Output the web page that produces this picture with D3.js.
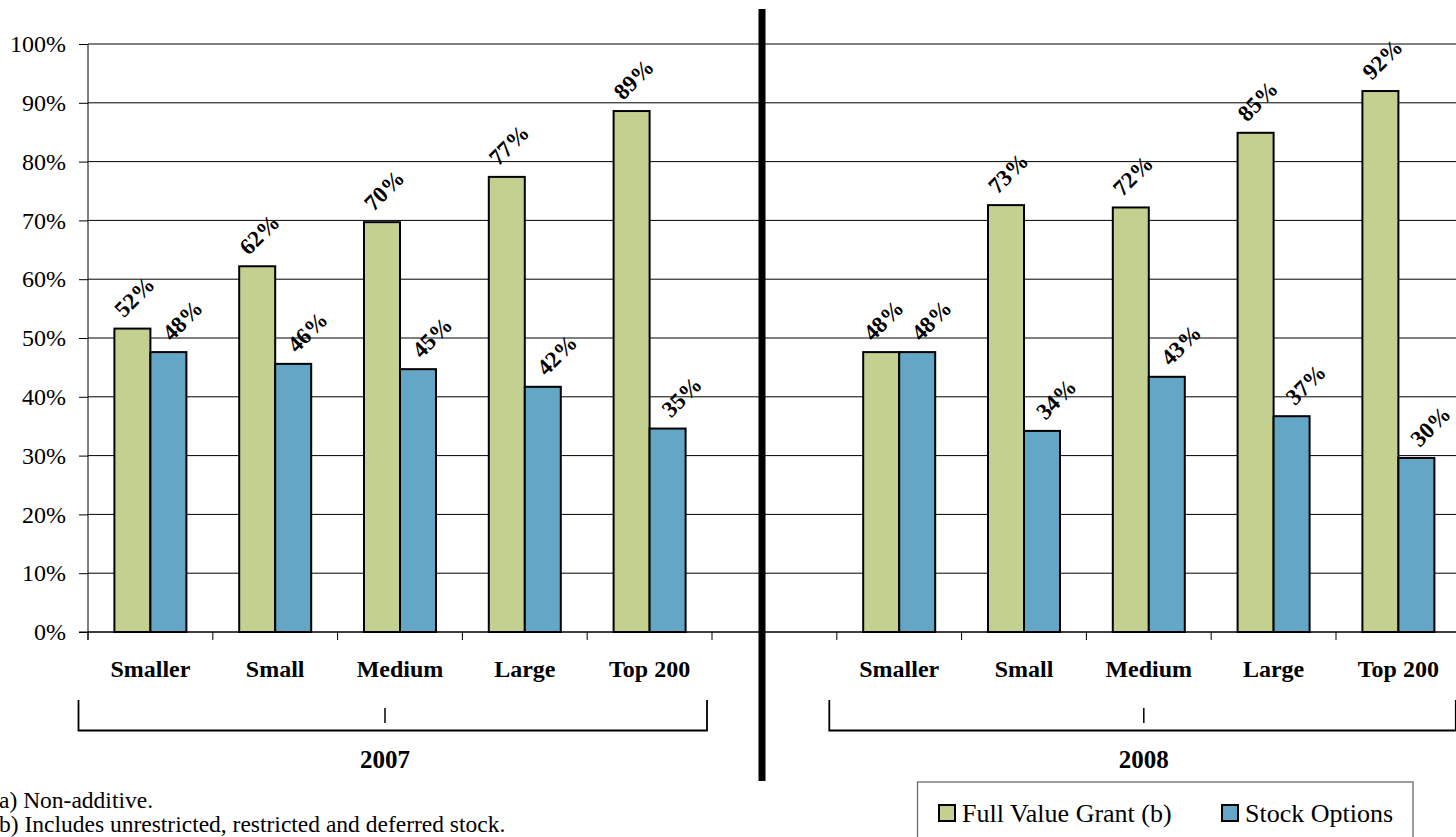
<!DOCTYPE html>
<html>
<head>
<meta charset="utf-8">
<script src="https://cdn.jsdelivr.net/npm/d3@7"></script>
<style>
  html, body { margin: 0; padding: 0; background: #fff; overflow: hidden; }
  svg { display: block; }
  text { font-family: "Liberation Serif", "Times New Roman", serif; fill: #000; }
</style>
</head>
<body>
<svg id="chart" width="1456" height="837"></svg>
<script>
// ---------------- data ----------------
const years = ["2007", "2008"];
const categories = ["Smaller", "Small", "Medium", "Large", "Top 200"];
const seriesNames = ["Full Value Grant (b)", "Stock Options"];
const fullValue2007 = [51.6, 62.2, 69.7, 77.4, 88.6];
const stockOptions2007 = [47.6, 45.6, 44.7, 41.7, 34.6];
const fullValue2008 = [47.6, 72.6, 72.2, 84.9, 92.0];
const stockOptions2008 = [47.6, 34.2, 43.4, 36.7, 29.6];
const yTicks = [0, 10, 20, 30, 40, 50, 60, 70, 80, 90, 100];
const footnotes = ["a) Non-additive.", "b) Includes unrestricted, restricted and deferred stock."];
const colors = ["#C4D08F", "#63A6C5"];

// ---------------- layout ----------------
const FONT = "'Liberation Serif', 'Times New Roman', serif";
const svg = d3.select("#chart");
const plotLeft = 88, plotTop = 44, plotBottom = 632;
const slotWidth = 124.8;

// slots: 5 categories for 2007, an empty slot, 5 categories for 2008
const slotKeys = [];
categories.forEach(c => slotKeys.push("2007|" + c));
slotKeys.push("gap");
categories.forEach(c => slotKeys.push("2008|" + c));

const x0 = d3.scaleBand().domain(slotKeys)
  .range([plotLeft, plotLeft + slotWidth * slotKeys.length]).padding(0);
const x1 = d3.scaleBand().domain(seriesNames)
  .range([0, x0.bandwidth()]).paddingInner(0).paddingOuter(0.7333);
const y = d3.scaleLinear().domain([0, 100]).range([plotBottom, plotTop]);

const rows = [];
[[fullValue2007, stockOptions2007], [fullValue2008, stockOptions2008]].forEach((pair, yi) => {
  categories.forEach((c, ci) => {
    pair.forEach((vals, si) => {
      rows.push({ key: years[yi] + "|" + c, series: seriesNames[si], si, value: vals[ci] });
    });
  });
});

// gridlines
svg.append("g")
  .selectAll("line").data(yTicks).join("line")
  .attr("x1", plotLeft).attr("x2", 1470)
  .attr("y1", d => y(d)).attr("y2", d => y(d))
  .attr("stroke", "#000").attr("stroke-width", 1);

// y axis
const yAxis = svg.append("g").attr("transform", `translate(${plotLeft},0)`)
  .call(d3.axisLeft(y).tickValues(yTicks).tickSize(9).tickPadding(13)
    .tickFormat(d => d + "%"));
yAxis.attr("font-family", null).attr("font-size", null);
yAxis.select(".domain").remove();
yAxis.selectAll(".tick line").attr("stroke", "#000");
yAxis.selectAll("text").attr("font-family", FONT).style("font-family", FONT).style("font-size", "24px");
svg.append("line").attr("x1", plotLeft).attr("x2", plotLeft)
  .attr("y1", plotTop).attr("y2", plotBottom + 8).attr("stroke", "#000");

// x axis line and boundary ticks
svg.append("line").attr("x1", plotLeft - 9).attr("x2", 1470)
  .attr("y1", plotBottom).attr("y2", plotBottom).attr("stroke", "#000");
const boundaries = slotKeys.map(k => x0(k)).concat([x0(slotKeys[slotKeys.length - 1]) + x0.bandwidth()]);
svg.append("g").selectAll("line").data(boundaries).join("line")
  .attr("x1", d => d).attr("x2", d => d)
  .attr("y1", plotBottom).attr("y2", plotBottom + 8)
  .attr("stroke", "#000");

// bars
svg.append("g").selectAll("rect").data(rows).join("rect")
  .attr("x", d => x0(d.key) + x1(d.series))
  .attr("y", d => y(d.value))
  .attr("width", x1.bandwidth())
  .attr("height", d => plotBottom - y(d.value))
  .attr("fill", d => colors[d.si])
  .attr("stroke", "#000").attr("stroke-width", 2);

// data labels
const labelShift = [2, 14];
svg.append("g").selectAll("text").data(rows).join("text")
  .attr("transform", d => {
    const cx = x0(d.key) + x1(d.series) + x1.bandwidth() / 2 + labelShift[d.si];
    const cy = y(d.value) - 32;
    return `translate(${cx},${cy}) rotate(-45)`;
  })
  .attr("text-anchor", "middle").attr("dy", "0.35em")
  .attr("font-family", FONT)
  .style("font-size", "23px").style("font-weight", "bold")
  .text(d => Math.round(d.value) + "%");

// category labels
svg.append("g").selectAll("text").data(slotKeys.filter(k => k !== "gap")).join("text")
  .attr("x", d => x0(d) + x0.bandwidth() / 2)
  .attr("y", 677)
  .attr("text-anchor", "middle")
  .attr("font-family", FONT)
  .style("font-size", "24px").style("font-weight", "bold")
  .text(d => d.split("|")[1]);

// year brackets
const yearShift = [-15, -5];
years.forEach((yr, i) => {
  const first = x0(yr + "|" + categories[0]);
  const last = x0(yr + "|" + categories[categories.length - 1]) + x0.bandwidth();
  const left = first - (i === 0 ? 9.5 : 7.5);
  const right = last - 5;
  const mid = (first + last) / 2 + yearShift[i];
  const g = svg.append("g");
  g.append("path")
    .attr("d", `M${left},700 V730.5 H${right} V700`)
    .attr("fill", "none").attr("stroke", "#000").attr("stroke-width", 1.8);
  g.append("line").attr("x1", mid).attr("x2", mid).attr("y1", 708).attr("y2", 723)
    .attr("stroke", "#000").attr("stroke-width", 1.5);
  g.append("text").attr("x", mid).attr("y", 768).attr("text-anchor", "middle")
    .attr("font-family", FONT)
    .style("font-size", "25px").style("font-weight", "bold").text(yr);
});

// thick divider
const gapX = x0("gap");
svg.append("rect").attr("x", gapX + 46.5).attr("y", 9).attr("width", 7).attr("height", 772)
  .attr("fill", "#000");

// footnotes
svg.append("g").selectAll("text").data(footnotes).join("text")
  .attr("x", -1).attr("y", (d, i) => 808 + i * 24)
  .attr("font-family", FONT)
  .style("font-size", "23.5px")
  .text(d => d);

// legend
const legend = svg.append("g");
legend.append("rect").attr("x", 917.5).attr("y", 782).attr("width", 495.5).attr("height", 80)
  .attr("fill", "#fff").attr("stroke", "#6b6b6b").attr("stroke-width", 1.3);
const legendX = [939, 1222];
seriesNames.forEach((s, i) => {
  legend.append("rect").attr("x", legendX[i]).attr("y", 805).attr("width", 16).attr("height", 16)
    .attr("fill", colors[i]).attr("stroke", "#000").attr("stroke-width", 2);
  legend.append("text").attr("x", legendX[i] + 23).attr("y", 822)
    .attr("font-family", FONT)
    .style("font-size", "26px").text(s);
});
</script>
</body>
</html>
